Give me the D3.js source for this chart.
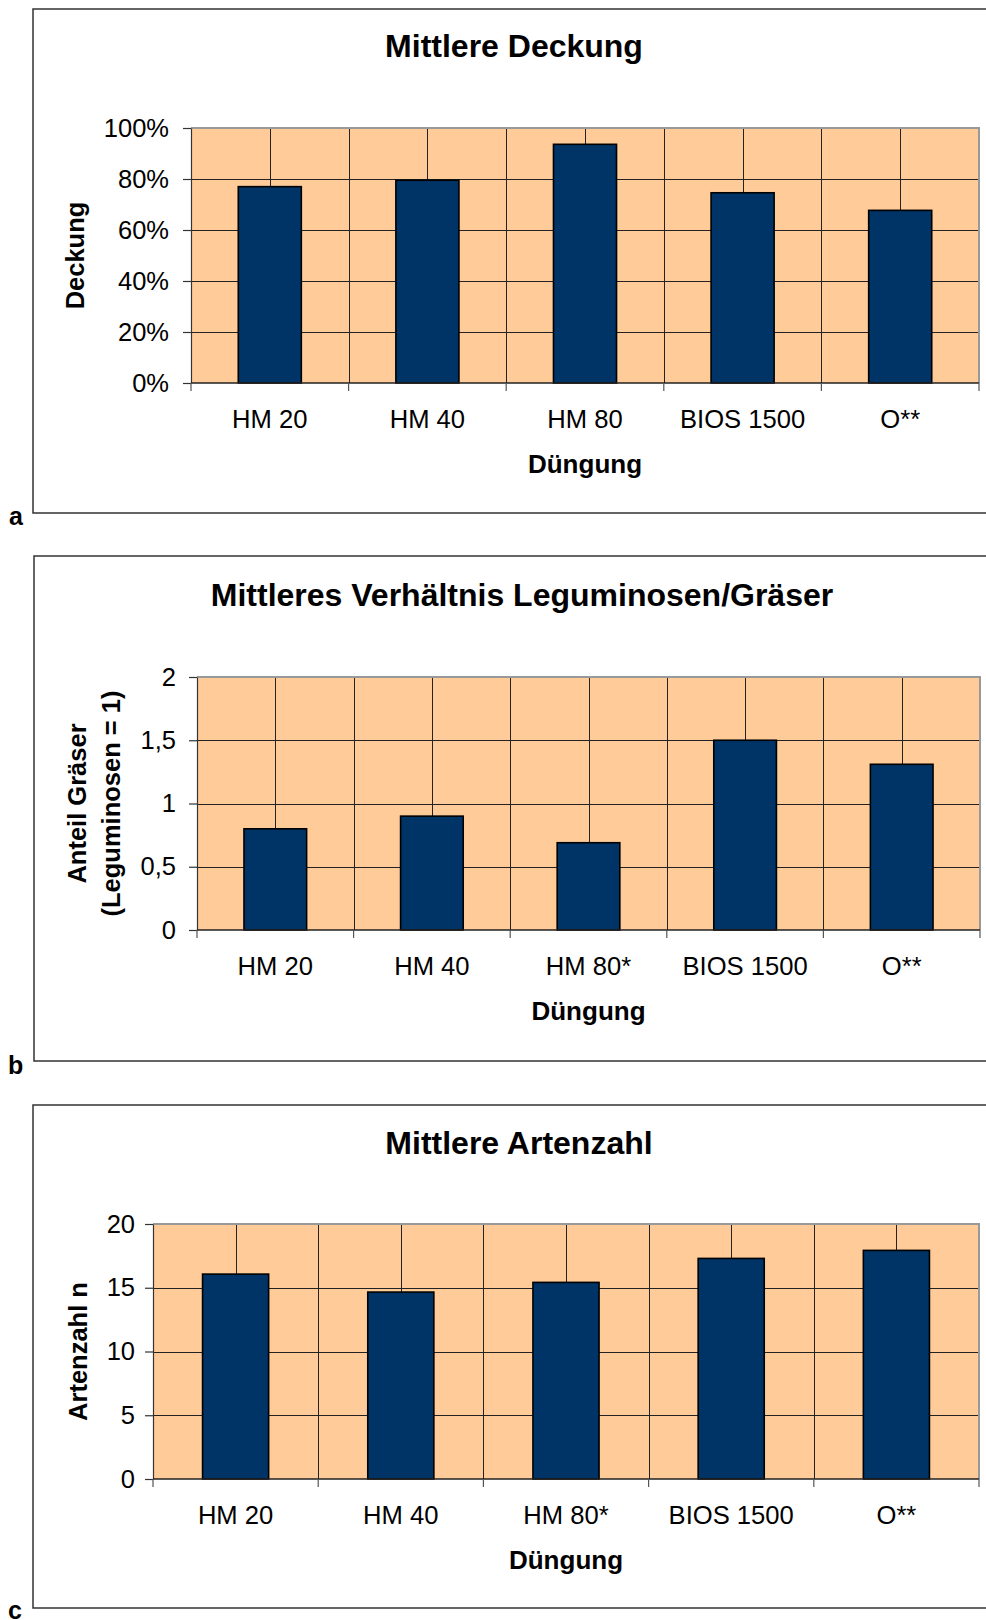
<!DOCTYPE html>
<html>
<head>
<meta charset="utf-8">
<script src="https://cdn.jsdelivr.net/npm/d3@7"></script>
<style>
  html, body { margin: 0; padding: 0; background: #fff; }
  svg { display: block; font-family: "Liberation Sans", Arial, sans-serif; }
</style>
</head>
<body>
<svg id="chart" width="986" height="1620"></svg>
<script>
// ---- Data ----
const categoriesA = ["HM 20", "HM 40", "HM 80", "BIOS 1500", "O**"];
const valuesA = [0.77, 0.795, 0.936, 0.746, 0.677];
const ticksA = [0, 0.2, 0.4, 0.6, 0.8, 1.0];

const categoriesB = ["HM 20", "HM 40", "HM 80*", "BIOS 1500", "O**"];
const valuesB = [0.8, 0.9, 0.69, 1.5, 1.31];
const ticksB = [0, 0.5, 1, 1.5, 2];

const categoriesC = ["HM 20", "HM 40", "HM 80*", "BIOS 1500", "O**"];
const valuesC = [16.07, 14.66, 15.42, 17.3, 17.93];
const ticksC = [0, 5, 10, 15, 20];

const titleA = "Mittlere Deckung";
const titleB = "Mittleres Verhältnis Leguminosen/Gräser";
const titleC = "Mittlere Artenzahl";
const yLabelA = ["Deckung"];
const yLabelB = ["Anteil Gräser", "(Leguminosen = 1)"];
const yLabelC = ["Artenzahl n"];
const xLabel = "Düngung";

// ---- Formats ----
const de = d3.formatLocale({decimal: ",", thousands: ".", grouping: [3], currency: ["", " €"]});
const fmtPct = d3.format(".0%");
const fmtDe = v => de.format("~g")(v);

const svg = d3.select("#chart");

function drawChart(cfg) {
  const g = svg.append("g");
  // outer frame (right side runs off the page)
  g.append("path")
    .attr("d", `M1000,${cfg.frame.t} H${cfg.frame.l} V${cfg.frame.b} H1000`)
    .attr("fill", "none").attr("stroke", "#333").attr("stroke-width", 1.5);

  const p = cfg.plot;
  const x = d3.scaleBand().domain(cfg.categories).range([p.l, p.r])
    .paddingInner(0.6).paddingOuter(0.3);
  const y = d3.scaleLinear().domain([cfg.ticks[0], cfg.ticks[cfg.ticks.length - 1]]).range([p.b, p.t]);
  const step = x.step();

  // plot background
  g.append("rect").attr("x", p.l).attr("y", p.t).attr("width", p.r - p.l).attr("height", p.b - p.t)
    .attr("fill", "#FFCC99");

  // horizontal gridlines
  g.selectAll(".hg").data(cfg.ticks.slice(1)).join("line")
    .attr("x1", p.l).attr("x2", p.r)
    .attr("y1", d => Math.round(y(d)) + 0.5).attr("y2", d => Math.round(y(d)) + 0.5)
    .attr("stroke", "#222").attr("stroke-width", 1);

  // vertical gridlines at category boundaries and centers
  const vx = [];
  cfg.categories.forEach(c => {
    vx.push(x(c) - step * 0.3);
    vx.push(x(c) + x.bandwidth() / 2);
  });
  g.selectAll(".vg").data(vx.slice(1)).join("line")
    .attr("x1", d => Math.round(d) + 0.5).attr("x2", d => Math.round(d) + 0.5)
    .attr("y1", p.t).attr("y2", p.b)
    .attr("stroke", "#222").attr("stroke-width", 1);

  // top and right border (gray)
  g.append("path").attr("d", `M${p.l},${p.t} H${p.r} V${p.b}`)
    .attr("fill", "none").attr("stroke", "#999").attr("stroke-width", 2);

  // bars
  g.selectAll(".bar").data(cfg.values).join("rect")
    .attr("x", (d, i) => x(cfg.categories[i]))
    .attr("width", x.bandwidth())
    .attr("y", d => y(d))
    .attr("height", d => y(cfg.ticks[0]) - y(d))
    .attr("fill", "#003366").attr("stroke", "#000").attr("stroke-width", 1.6);

  // y axis
  const ya = g.append("g").attr("transform", `translate(${p.l},0)`)
    .call(d3.axisLeft(y).tickValues(cfg.ticks).tickSize(8).tickSizeOuter(0)
      .tickPadding(cfg.tickPad).tickFormat(cfg.fmt));
  ya.selectAll("path, line").attr("stroke", "#333").attr("stroke-width", 1.2);
  ya.selectAll("text").attr("font-size", 25.5).attr("fill", "#000")
    .attr("font-family", "Liberation Sans, Arial, sans-serif");

  // x axis line + ticks at boundaries
  g.append("line").attr("x1", p.l).attr("x2", p.r).attr("y1", p.b).attr("y2", p.b)
    .attr("stroke", "#222").attr("stroke-width", 1.5);
  const bx = cfg.categories.map(c => x(c) - step * 0.3).concat([p.r]);
  g.selectAll(".xt").data(bx).join("line")
    .attr("x1", d => d).attr("x2", d => d).attr("y1", p.b).attr("y2", p.b + 8)
    .attr("stroke", "#555").attr("stroke-width", 1.2);

  // x labels
  g.selectAll(".xl").data(cfg.categories).join("text")
    .attr("x", d => x(d) + x.bandwidth() / 2).attr("y", p.b + 45)
    .attr("text-anchor", "middle").attr("font-size", 25.6).text(d => d);

  // x axis title
  g.append("text").attr("x", (p.l + p.r) / 2).attr("y", p.b + 90)
    .attr("text-anchor", "middle").attr("font-size", 26).attr("font-weight", "bold").text(xLabel);

  // y axis title(s)
  const cy = (p.t + p.b) / 2;
  cfg.yLabel.forEach((t, i) => {
    g.append("text").attr("transform", `translate(${cfg.yLabelX[i]},${cy}) rotate(-90)`)
      .attr("text-anchor", "middle").attr("font-size", 25.5).attr("font-weight", "bold").text(t);
  });

  // title
  g.append("text").attr("x", cfg.titlePos[0]).attr("y", cfg.titlePos[1])
    .attr("text-anchor", "middle").attr("font-size", 32).attr("font-weight", "bold").text(cfg.title);

  // panel letter
  g.append("text").attr("x", cfg.letterPos[0]).attr("y", cfg.letterPos[1])
    .attr("font-size", 25).attr("font-weight", "bold").text(cfg.letter);
}

drawChart({
  categories: categoriesA, values: valuesA, ticks: ticksA, fmt: fmtPct,
  frame: {l: 33, t: 9, b: 513}, plot: {l: 191, t: 128, r: 979, b: 383},
  tickPad: 14, title: titleA, titlePos: [514, 57],
  yLabel: yLabelA, yLabelX: [84], letter: "a", letterPos: [9, 525]
});
drawChart({
  categories: categoriesB, values: valuesB, ticks: ticksB, fmt: fmtDe,
  frame: {l: 34, t: 556, b: 1061}, plot: {l: 197, t: 677, r: 980, b: 930},
  tickPad: 13, title: titleB, titlePos: [522, 606],
  yLabel: yLabelB, yLabelX: [86, 120], letter: "b", letterPos: [8, 1074]
});
drawChart({
  categories: categoriesC, values: valuesC, ticks: ticksC, fmt: d3.format("d"),
  frame: {l: 33, t: 1105, b: 1608}, plot: {l: 153, t: 1224, r: 979, b: 1479},
  tickPad: 10, title: titleC, titlePos: [519, 1154],
  yLabel: yLabelC, yLabelX: [87], letter: "c", letterPos: [8, 1619]
});
</script>
</body>
</html>
